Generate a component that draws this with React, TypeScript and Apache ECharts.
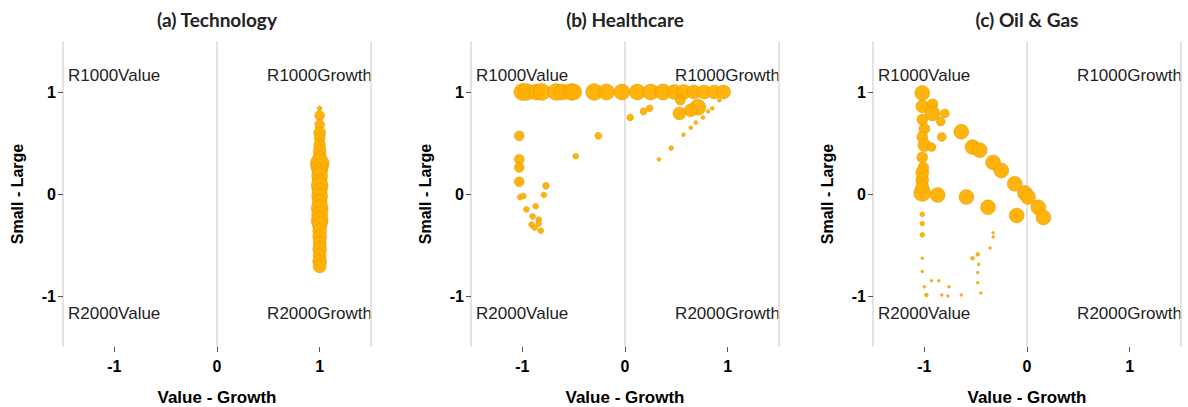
import React, { useEffect, useRef } from 'react';
import * as echarts from 'echarts';

const panelTitles = ['(a) Technology', '(b) Healthcare', '(c) Oil & Gas'];
const tickValues = [-1, 0, 1];
const gridLineValues = [-1.5, 0, 1.5];
const quadrantTop = ['R1000Value', 'R1000Growth'];
const quadrantBottom = ['R2000Value', 'R2000Growth'];
const xName = 'Value - Growth';
const yName = 'Small - Large';

// [value-growth, small-large, marker diameter]
const techPoints: number[][] = [
  [1, 0.84, 5], [1, 0.77, 10], [1, 0.68, 10], [1, 0.6, 12], [1, 0.55, 11],
  [1, 0.48, 12], [1, 0.42, 13], [1, 0.35, 14], [1, 0.3, 19], [1, 0.26, 17],
  [1, 0.22, 15], [1, 0.18, 16], [1, 0.12, 15], [1, 0.08, 17], [1, 0.03, 15],
  [1, -0.02, 16], [1, -0.08, 15], [1, -0.14, 17], [1, -0.2, 16], [1, -0.26, 17],
  [1, -0.3, 15], [1, -0.36, 14], [1, -0.42, 14], [1, -0.48, 13], [1, -0.54, 14],
  [1, -0.6, 13], [1, -0.66, 14], [1, -0.71, 13],
];

const healthPoints: number[][] = [
  [-1.0, 1, 17], [-0.96, 1, 17], [-0.86, 1, 16], [-0.81, 1, 17], [-0.67, 1, 17],
  [-0.61, 1, 16], [-0.52, 1, 17], [-0.5, 1, 16], [-0.3, 1, 17], [-0.18, 1, 16],
  [-0.03, 1, 16], [0.12, 1, 16], [0.25, 1, 16], [0.37, 1, 16], [0.48, 1, 15],
  [0.57, 1, 15], [0.67, 1, 14], [0.77, 1, 14], [0.87, 1, 14], [0.96, 1, 14],
  [0.54, 0.92, 10], [0.71, 0.85, 16], [0.64, 0.82, 13], [0.53, 0.79, 13],
  [0.18, 0.81, 7], [0.24, 0.84, 7], [0.05, 0.75, 7], [0.92, 0.92, 4],
  [0.85, 0.84, 4], [0.81, 0.81, 4], [0.76, 0.75, 4], [0.69, 0.7, 4],
  [0.64, 0.65, 4], [0.57, 0.58, 4], [0.45, 0.45, 5], [0.33, 0.34, 4],
  [-0.26, 0.57, 7], [-0.48, 0.37, 6],
  [-1.03, 0.57, 10], [-1.03, 0.34, 10], [-1.03, 0.26, 10], [-1.03, 0.12, 10],
  [-1.02, -0.03, 6], [-0.99, -0.02, 6], [-0.77, 0.08, 7], [-0.79, -0.01, 6],
  [-0.96, -0.15, 6], [-0.87, -0.12, 6], [-0.9, -0.22, 6], [-0.84, -0.25, 6],
  [-0.91, -0.3, 6], [-0.84, -0.29, 6], [-0.88, -0.33, 6], [-0.82, -0.36, 6],
];

const oilPoints: number[][] = [
  [-1.02, 0.99, 15], [-1.02, 0.86, 13], [-0.92, 0.88, 11], [-0.92, 0.79, 15],
  [-0.8, 0.79, 9], [-0.84, 0.71, 9], [-1.02, 0.73, 11], [-1.0, 0.64, 11],
  [-1.02, 0.56, 11], [-1.0, 0.48, 13], [-0.93, 0.46, 9], [-0.83, 0.56, 9],
  [-0.64, 0.61, 15], [-0.53, 0.46, 15], [-0.46, 0.43, 15], [-0.33, 0.31, 15],
  [-0.25, 0.23, 15], [-0.12, 0.1, 15], [-0.02, 0.01, 15], [0.01, -0.03, 15],
  [0.11, -0.13, 15], [0.16, -0.23, 15], [-0.1, -0.21, 15], [-0.38, -0.13, 15],
  [-0.59, -0.03, 15], [-0.87, -0.01, 15], [-1.02, 0.01, 17], [-1.02, 0.14, 13],
  [-1.02, 0.21, 13], [-1.01, 0.26, 11], [-1.02, 0.36, 11], [-1.02, 0.07, 13],
  [-1.02, -0.2, 5], [-1.02, -0.29, 5], [-1.02, -0.4, 5], [-1.02, -0.63, 3],
  [-1.02, -0.76, 3], [-0.93, -0.85, 3], [-0.86, -0.85, 3], [-1.0, -0.91, 3],
  [-0.76, -0.91, 3], [-0.98, -0.99, 4], [-0.83, -0.99, 3], [-0.77, -1.0, 3],
  [-0.64, -0.99, 3], [-0.33, -0.38, 3], [-0.33, -0.42, 3], [-0.36, -0.53, 3],
  [-0.48, -0.59, 4], [-0.53, -0.63, 4], [-0.47, -0.69, 3], [-0.48, -0.77, 3],
  [-0.48, -0.87, 3], [-0.45, -0.97, 3],
];

const panelData = [techPoints, healthPoints, oilPoints];

const gridLefts = [63, 471, 873];
const gridWidth = 308;
const gridTop = 41;
const gridHeight = 306;

export default function App() {
  const ref = useRef<HTMLDivElement>(null);
  useEffect(() => {
    if (!ref.current) return;
    const chart = echarts.init(ref.current, undefined, { renderer: 'svg' });
    const axisFont = '"Liberation Sans", Arial, sans-serif';
    const grids = gridLefts.map((l) => ({
      left: l, top: gridTop, width: gridWidth, height: gridHeight,
      outerBoundsMode: 'none', containLabel: false,
    }));
    const xAxes = gridLefts.map((_, i) => ({
      type: 'value', gridIndex: i, min: -1.5, max: 1.5, interval: 1.5,
      axisLine: { show: false, onZero: false },
      axisTick: { show: true, customValues: tickValues, length: 5, lineStyle: { color: '#555' } },
      axisLabel: { customValues: tickValues, fontWeight: 'bold', fontSize: 16, color: '#000', margin: 11, fontFamily: axisFont },
      splitLine: { show: false },
      name: xName, nameLocation: 'middle', nameGap: 42,
      nameTextStyle: { fontWeight: 'bold', fontSize: 17, color: '#000', fontFamily: axisFont, verticalAlign: 'top' },
    }));
    const yAxes = gridLefts.map((_, i) => ({
      type: 'value', gridIndex: i, min: -1.5, max: 1.5, interval: 1.5,
      axisLine: { show: false, onZero: false },
      axisTick: { show: true, customValues: tickValues, length: 5, lineStyle: { color: '#555' } },
      axisLabel: { customValues: tickValues, fontWeight: 'bold', fontSize: 16, color: '#000', margin: 7, fontFamily: axisFont },
      splitLine: { show: false },
      name: yName, nameLocation: 'middle', nameGap: 38, nameRotate: 90,
      nameTextStyle: { fontWeight: 'bold', fontSize: 16, color: '#000', fontFamily: axisFont },
    }));
    const series = panelData.map((pts, i) => ({
      type: 'scatter', xAxisIndex: i, yAxisIndex: i,
      data: pts,
      symbolSize: (v: number[]) => v[2],
      itemStyle: { color: '#FFB000', opacity: 0.95, borderColor: 'rgba(190,130,0,0.6)', borderWidth: 0.5 },
      markLine: {
        silent: true, symbol: 'none', label: { show: false }, z: 0,
        lineStyle: { color: '#dadada', width: 1.5, type: 'solid' },
        data: gridLineValues.map((v) => ({ xAxis: v })),
      },
    }));
    const graphics: any[] = [];
    gridLefts.forEach((l, i) => {
      graphics.push({
        type: 'text', x: l + gridWidth / 2, y: 19,
        style: { text: panelTitles[i], align: 'center', verticalAlign: 'middle', font: 'bold 19px Lato', fill: '#222' },
      });
      const qFont = '17px "Liberation Sans"';
      graphics.push({ type: 'text', x: l + 5, y: 75, style: { text: quadrantTop[0], align: 'left', verticalAlign: 'middle', font: qFont, fill: '#222' } });
      graphics.push({ type: 'text', x: l + gridWidth + 1, y: 75, style: { text: quadrantTop[1], align: 'right', verticalAlign: 'middle', font: qFont, fill: '#222' } });
      graphics.push({ type: 'text', x: l + 5, y: 313, style: { text: quadrantBottom[0], align: 'left', verticalAlign: 'middle', font: qFont, fill: '#222' } });
      graphics.push({ type: 'text', x: l + gridWidth + 1, y: 313, style: { text: quadrantBottom[1], align: 'right', verticalAlign: 'middle', font: qFont, fill: '#222' } });
    });
    chart.setOption({
      animation: false,
      backgroundColor: '#fff',
      grid: grids,
      xAxis: xAxes,
      yAxis: yAxes,
      series,
      graphic: graphics,
    } as any);
    return () => chart.dispose();
  }, []);
  return <div ref={ref} style={{ position: 'fixed', left: 0, top: 0, width: 1188, height: 407 }} />;
}
